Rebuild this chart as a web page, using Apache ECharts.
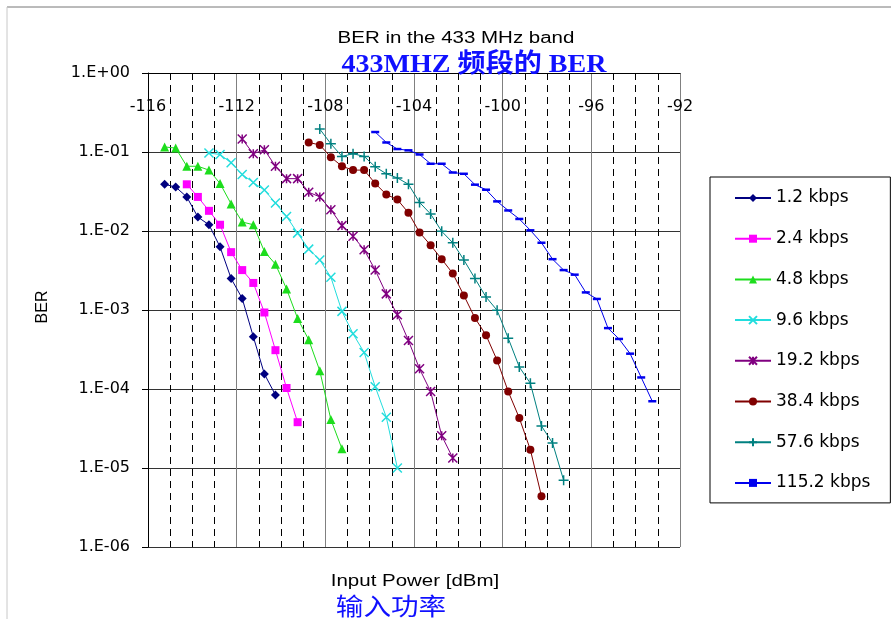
<!DOCTYPE html>
<html>
<head>
<meta charset="utf-8">
<script src="https://cdn.jsdelivr.net/npm/echarts@6/dist/echarts.min.js"></script>
<style>
  html, body { margin: 0; padding: 0; background: #fff; }
  #chart { width: 891px; height: 619px; }
</style>
</head>
<body>
<div id="chart"></div>
<script>
// x: input power [dBm], y: BER
const x1k2 = [-115.25, -114.75, -114.25, -113.75, -113.25, -112.75, -112.25, -111.75, -111.25, -110.75, -110.25]
const ber1k2 = [0.039, 0.036, 0.027, 0.015, 0.012, 0.0063, 0.0025, 0.0014, 0.00046, 0.000155, 0.000084]

const x2k4 = [-114.25, -113.75, -113.25, -112.75, -112.25, -111.75, -111.25, -110.75, -110.25, -109.75, -109.25]
const ber2k4 = [0.039, 0.027, 0.018, 0.012, 0.0054, 0.0032, 0.0022, 0.00093, 0.00031, 0.000103, 0.000038]

const x4k8 = [-115.25, -114.75, -114.25, -113.75, -113.25, -112.75, -112.25, -111.75, -111.25, -110.75, -110.25, -109.75, -109.25, -108.75, -108.25, -107.75, -107.25]
const ber4k8 = [0.116, 0.112, 0.066, 0.066, 0.059, 0.040, 0.022, 0.013, 0.012, 0.0055, 0.0038, 0.00185, 0.00078, 0.00042, 0.00017, 0.000041, 0.0000175]

const x9k6 = [-113.25, -112.75, -112.25, -111.75, -111.25, -110.75, -110.25, -109.75, -109.25, -108.75, -108.25, -107.75, -107.25, -106.75, -106.25, -105.75, -105.25, -104.75]
const ber9k6 = [0.097, 0.093, 0.073, 0.052, 0.041, 0.033, 0.0226, 0.0153, 0.0094, 0.0059, 0.0043, 0.0026, 0.00096, 0.0005, 0.00029, 0.000107, 0.000044, 0.00001]

const x19k2 = [-111.75, -111.25, -110.75, -110.25, -109.75, -109.25, -108.75, -108.25, -107.75, -107.25, -106.75, -106.25, -105.75, -105.25, -104.75, -104.25, -103.75, -103.25, -102.75, -102.25]
const ber19k2 = [0.146, 0.095, 0.107, 0.066, 0.046, 0.046, 0.031, 0.027, 0.0186, 0.0117, 0.0086, 0.0058, 0.0032, 0.0016, 0.00087, 0.00041, 0.00018, 0.000093, 0.0000256, 0.0000134]

const x38k4 = [-108.75, -108.25, -107.75, -107.25, -106.75, -106.25, -105.75, -105.25, -104.75, -104.25, -103.75, -103.25, -102.75, -102.25, -101.75, -101.25, -100.75, -100.25, -99.75, -99.25, -98.75, -98.25]
const ber38k4 = [0.132, 0.123, 0.086, 0.066, 0.059, 0.059, 0.040, 0.029, 0.025, 0.017, 0.0096, 0.0066, 0.0044, 0.0029, 0.00153, 0.00079, 0.00048, 0.00023, 0.000093, 0.000043, 0.000017, 0.0000044]

const x57k6 = [-108.25, -107.75, -107.25, -106.75, -106.25, -105.75, -105.25, -104.75, -104.25, -103.75, -103.25, -102.75, -102.25, -101.75, -101.25, -100.75, -100.25, -99.75, -99.25, -98.75, -98.25, -97.75, -97.25]
const ber57k6 = [0.195, 0.127, 0.088, 0.095, 0.088, 0.065, 0.053, 0.047, 0.039, 0.023, 0.0164, 0.0099, 0.0071, 0.0043, 0.0025, 0.00146, 0.00099, 0.00044, 0.00019, 0.000118, 0.000034, 0.0000207, 0.000007]

const x115k2 = [-105.75, -105.25, -104.75, -104.25, -103.75, -103.25, -102.75, -102.25, -101.75, -101.25, -100.75, -100.25, -99.75, -99.25, -98.75, -98.25, -97.75, -97.25, -96.75, -96.25, -95.75, -95.25, -94.75, -94.25, -93.75, -93.25]
const ber115k2 = [0.179, 0.132, 0.109, 0.105, 0.093, 0.071, 0.071, 0.055, 0.053, 0.0386, 0.0333, 0.0237, 0.0182, 0.0142, 0.0102, 0.0071, 0.0044, 0.0032, 0.0028, 0.00167, 0.00138, 0.00059, 0.00043, 0.00028, 0.00014, 0.00007]

const rateNames = ['1.2 kbps', '2.4 kbps', '4.8 kbps', '9.6 kbps', '19.2 kbps', '38.4 kbps', '57.6 kbps', '115.2 kbps']
const xTicks = { min: -116, max: -92, step: 4 }
const berRange = { min: 1e-6, max: 1 }

const crossPath = 'path://M0,0L10,10M10,0L0,10'
const starPath = 'path://M0,0L10,10M10,0L0,10M5,0L5,10'
const plusPath = 'path://M5,0L5,10M0,5L10,5'
const dashPath = 'path://M0,0L8,0L8,2.5L0,2.5Z'

const styles = [
  { color: '#000080', symbol: 'diamond', size: 9 },
  { color: '#ff00ff', symbol: 'rect', size: 8 },
  { color: '#1ddd1d', symbol: 'triangle', size: 9 },
  { color: '#22dddd', symbol: crossPath, size: 9, stroke: true },
  { color: '#800080', symbol: starPath, size: 9, stroke: true },
  { color: '#800000', symbol: 'circle', size: 8 },
  { color: '#008080', symbol: plusPath, size: 10, stroke: true },
  { color: '#0000ee', symbol: dashPath, size: [8, 2.5] }
]

const xs = [x1k2, x2k4, x4k8, x9k6, x19k2, x38k4, x57k6, x115k2]
const bers = [ber1k2, ber2k4, ber4k8, ber9k6, ber19k2, ber38k4, ber57k6, ber115k2]

const sans = 'DejaVu Sans'

const series = rateNames.map((name, i) => {
  const st = styles[i]
  return {
    name: name,
    type: 'line',
    data: xs[i].map((x, k) => [x, bers[i][k]]),
    symbol: st.symbol,
    symbolSize: st.size,
    showAllSymbol: true,
    lineStyle: { color: st.color, width: 1 },
    itemStyle: st.stroke
      ? { color: st.color, borderColor: st.color, borderWidth: 1.5 }
      : { color: st.color },
    emphasis: { disabled: true },
    animation: false
  }
})

function berLabel(v) {
  const e = Math.round(Math.log10(v))
  return '1.E' + (e >= 0 ? '+' : '-') + String(Math.abs(e)).padStart(2, '0')
}

const chart = echarts.init(document.getElementById('chart'))

chart.setOption({
  backgroundColor: '#fff',
  animation: false,
  grid: { left: 148, top: 73, width: 532, height: 474, outerBoundsMode: 'none' },
  xAxis: {
    type: 'value',
    position: 'top',
    min: xTicks.min,
    max: xTicks.max,
    interval: xTicks.step,
    axisLine: { show: true, onZero: false, lineStyle: { color: '#000' } },
    axisTick: { show: false },
    axisLabel: { inside: true, margin: 26, fontFamily: sans, fontSize: 16, color: '#000' },
    splitLine: { show: true, lineStyle: { color: '#808080' } },
    minorTick: { show: false, splitNumber: 4 },
    minorSplitLine: { show: true, lineStyle: { color: '#000', type: [7, 5] } }
  },
  yAxis: {
    type: 'log',
    logBase: 10,
    min: berRange.min,
    max: berRange.max,
    splitNumber: 6,
    axisLine: { show: true, lineStyle: { color: '#000' } },
    axisTick: { show: true, length: 6, lineStyle: { color: '#000' } },
    axisLabel: { formatter: berLabel, margin: 18, fontFamily: sans, fontSize: 16, color: '#000' },
    splitLine: { show: true, lineStyle: { color: '#333' } }
  },
  legend: {
    data: rateNames,
    orient: 'vertical',
    left: 710,
    top: 177,
    padding: [12.5, 20, 11.5, 24],
    itemWidth: 36,
    itemHeight: 10,
    itemGap: 23.7,
    borderColor: '#000',
    borderWidth: 1,
    selectedMode: false,
    textStyle: { fontFamily: sans, fontSize: 17, color: '#000' }
  },
  graphic: [
    { type: 'line', shape: { x1: 7, y1: 7, x2: 891, y2: 7 }, style: { stroke: '#777', lineWidth: 1 } },
    { type: 'line', shape: { x1: 7, y1: 7, x2: 7, y2: 619 }, style: { stroke: '#c8c8c8', lineWidth: 1 } },
    {
      type: 'text', x: 456, y: 39, scaleX: 1.28,
      style: { text: 'BER in the 433 MHz band', font: '16px "Liberation Sans", Arial', fill: '#000', align: 'center', verticalAlign: 'middle' }
    },
    {
      type: 'text', x: 474, y: 65, scaleX: 1.08, z: 10,
      style: { text: '433MHZ 频段的 BER', font: 'bold 26px "Liberation Serif", "Noto Sans CJK SC"', fill: '#1010ff', align: 'center', verticalAlign: 'middle' }
    },
    {
      type: 'text', x: 415, y: 582, scaleX: 1.28,
      style: { text: 'Input Power [dBm]', font: '16px "Liberation Sans", Arial', fill: '#000', align: 'center', verticalAlign: 'middle' }
    },
    {
      type: 'text', x: 391, y: 606, scaleX: 1.15,
      style: { text: '输入功率', font: '24px "Noto Sans CJK SC"', fill: '#1010ff', align: 'center', verticalAlign: 'middle' }
    },
    {
      type: 'text', x: 43, y: 307, rotation: Math.PI / 2,
      style: { text: 'BER', font: '16px "Liberation Sans", Arial', fill: '#000', align: 'center', verticalAlign: 'middle' }
    }
  ],
  series: series
})
</script>
</body>
</html>
